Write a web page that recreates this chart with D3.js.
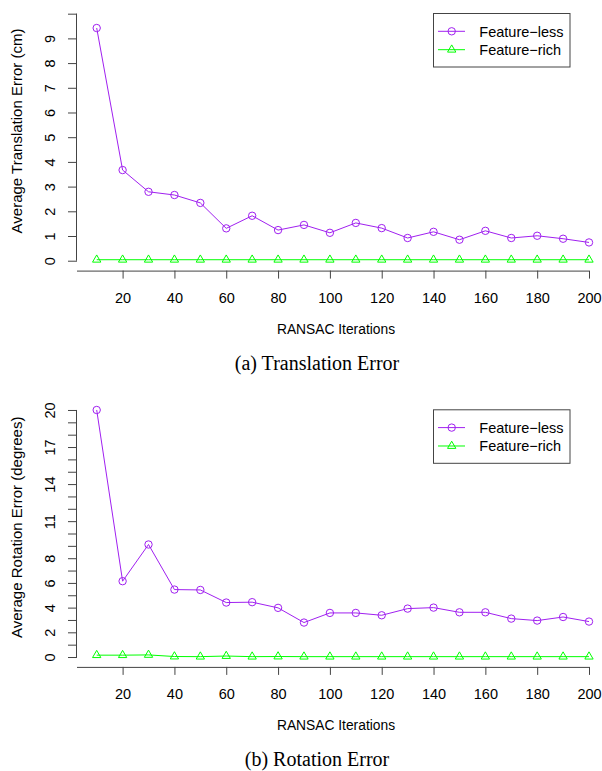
<!DOCTYPE html>
<html>
<head>
<meta charset="utf-8">
<script src="https://cdn.jsdelivr.net/npm/d3@7"></script>
<style>
  html, body { margin: 0; padding: 0; background: #fff; }
  svg { display: block; }
  text { font-family: "Liberation Sans", Arial, Helvetica, sans-serif; fill: #000; }
  .caption { font-family: "Liberation Serif", "Times New Roman", serif; }
</style>
</head>
<body>
<svg id="chart" width="602" height="771"></svg>
<script>
// ---------------- data ----------------
const iterations = [10, 20, 30, 40, 50, 60, 70, 80, 90, 100, 110, 120, 130, 140, 150, 160, 170, 180, 190, 200];
const seriesNames = ["Feature\u2212less", "Feature\u2212rich"];

const translationLess = [9.42, 3.67, 2.79, 2.66, 2.34, 1.31, 1.82, 1.24, 1.45, 1.13, 1.53, 1.32, 0.92, 1.17, 0.85, 1.21, 0.92, 1.01, 0.89, 0.74];
const translationRich = [0.04, 0.04, 0.04, 0.04, 0.04, 0.04, 0.04, 0.04, 0.04, 0.04, 0.04, 0.04, 0.04, 0.04, 0.04, 0.04, 0.04, 0.04, 0.04, 0.04];

const rotationLess = [20.0, 6.14, 9.11, 5.46, 5.43, 4.41, 4.44, 3.98, 2.79, 3.57, 3.57, 3.38, 3.92, 4.00, 3.62, 3.62, 3.11, 2.95, 3.24, 2.87];
const rotationRich = [0.15, 0.15, 0.17, 0.04, 0.03, 0.08, 0.03, 0.04, 0.03, 0.03, 0.03, 0.03, 0.03, 0.03, 0.03, 0.03, 0.03, 0.03, 0.03, 0.03];

const xTickValues = [20, 40, 60, 80, 100, 120, 140, 160, 180, 200];
const translationYTicks = [0, 1, 2, 3, 4, 5, 6, 7, 8, 9, 10];
const translationYLabels = [0, 1, 2, 3, 4, 5, 6, 7, 8, 9];
const rotationYTicks = [0, 1, 2, 3, 4, 5, 6, 7, 8, 9, 10, 11, 12, 13, 14, 15, 16, 17, 18, 19, 20];
const rotationYLabels = [0, 2, 4, 6, 8, 11, 14, 17, 20];

const xTitle = "RANSAC Iterations";
const panels = [
  { less: translationLess, rich: translationRich, yDomain: [-0.4, 10.4], yTicks: translationYTicks, yLabels: translationYLabels,
    yTitle: "Average Translation Error (cm)", caption: "(a) Translation Error", offset: 0 },
  { less: rotationLess, rich: rotationRich, yDomain: [-0.8, 20.8], yTicks: rotationYTicks, yLabels: rotationYLabels,
    yTitle: "Average Rotation Error (degrees)", caption: "(b) Rotation Error", offset: 396.3 }
];

// ---------------- drawing ----------------
const COL_LESS = "#A020F0";
const COL_RICH = "#00FF00";
const AXIS_COL = "#444";
const FS = 14.5;

const svg = d3.select("#chart");
const x = d3.scaleLinear().domain([2.4, 207.6]).range([77, 608.7]);

panels.forEach(p => {
  const g = svg.append("g").attr("transform", `translate(0,${p.offset})`);
  const y = d3.scaleLinear().domain(p.yDomain).range([270.6, 3.8]);
  const y0 = y(p.yDomain[0]);

  // x axis
  const xAxis = d3.axisBottom(x).tickValues(xTickValues).tickSize(8).tickSizeOuter(0);
  const gx = g.append("g").attr("transform", `translate(0,${y0})`).call(xAxis);
  gx.select(".domain").remove();
  gx.selectAll(".tick line").attr("stroke", AXIS_COL);
  gx.selectAll(".tick text").attr("font-size", FS).attr("font-family", null).style("fill", "#000")
    .attr("y", 32.5).attr("dy", null);
  gx.append("line").attr("x1", x(2.4)).attr("x2", x(200)).attr("y1", 0.5).attr("y2", 0.5)
    .attr("stroke", AXIS_COL);

  // y axis
  const yAxis = d3.axisLeft(y).tickValues(p.yTicks).tickSize(9).tickSizeOuter(0)
    .tickFormat(d => p.yLabels.includes(d) ? String(d) : "");
  const gy = g.append("g").attr("transform", `translate(77,0)`).call(yAxis);
  gy.select(".domain").remove();
  gy.selectAll(".tick line").attr("stroke", AXIS_COL);
  gy.selectAll(".tick text")
    .attr("font-size", FS).attr("font-family", null).style("fill", "#000")
    .attr("x", null).attr("dy", null)
    .attr("text-anchor", "middle")
    .attr("transform", "translate(-22,0) rotate(-90)");
  gy.append("line").attr("x1", -0.5).attr("x2", -0.5)
    .attr("y1", y(p.yTicks[0])).attr("y2", y(p.yTicks[p.yTicks.length - 1])).attr("stroke", AXIS_COL);

  // axis titles
  g.append("text").attr("transform", `translate(22,${131}) rotate(-90)`)
    .attr("text-anchor", "middle").attr("font-size", 15).text(p.yTitle);
  g.append("text").attr("x", 336).attr("y", 334).attr("text-anchor", "middle")
    .attr("font-size", 13.8).text(xTitle);
  g.append("text").attr("class", "caption").attr("x", 317).attr("y", 369.5).attr("text-anchor", "middle")
    .attr("font-size", 20).text(p.caption);

  // series
  const line = d3.line().x((d, i) => x(iterations[i])).y(d => y(d));
  g.append("path").datum(p.rich).attr("d", line).attr("fill", "none").attr("stroke", COL_RICH).attr("stroke-width", 1);
  g.append("path").datum(p.less).attr("d", line).attr("fill", "none").attr("stroke", COL_LESS).attr("stroke-width", 1);

  const tri = d3.symbol().type(d3.symbolTriangle).size(30);
  g.selectAll(".tri").data(p.rich).join("path")
    .attr("transform", (d, i) => `translate(${x(iterations[i])},${y(d)})`)
    .attr("d", tri).attr("fill", "none").attr("stroke", COL_RICH).attr("stroke-width", 1);
  g.selectAll(".circ").data(p.less).join("circle")
    .attr("cx", (d, i) => x(iterations[i])).attr("cy", d => y(d)).attr("r", 3.7)
    .attr("fill", "none").attr("stroke", COL_LESS).attr("stroke-width", 1);

  // legend
  const lg = g.append("g");
  lg.append("rect").attr("x", 433.5).attr("y", 13.5).attr("width", 136.5).attr("height", 53.5)
    .attr("fill", "#fff").attr("stroke", AXIS_COL);
  const rows = [
    { name: seriesNames[0], col: COL_LESS, sym: "circle", yy: 31.3 },
    { name: seriesNames[1], col: COL_RICH, sym: "tri", yy: 49.7 }
  ];
  rows.forEach(r => {
    lg.append("line").attr("x1", 438).attr("x2", 465).attr("y1", r.yy).attr("y2", r.yy).attr("stroke", r.col);
    if (r.sym === "circle") {
      lg.append("circle").attr("cx", 451.7).attr("cy", r.yy).attr("r", 3.7).attr("fill", "none").attr("stroke", r.col);
    } else {
      lg.append("path").attr("transform", `translate(451.7,${r.yy})`).attr("d", tri).attr("fill", "none").attr("stroke", r.col);
    }
    lg.append("text").attr("x", 479.3).attr("y", r.yy).attr("dy", "0.36em").attr("font-size", FS).text(r.name);
  });
});
</script>
</body>
</html>
